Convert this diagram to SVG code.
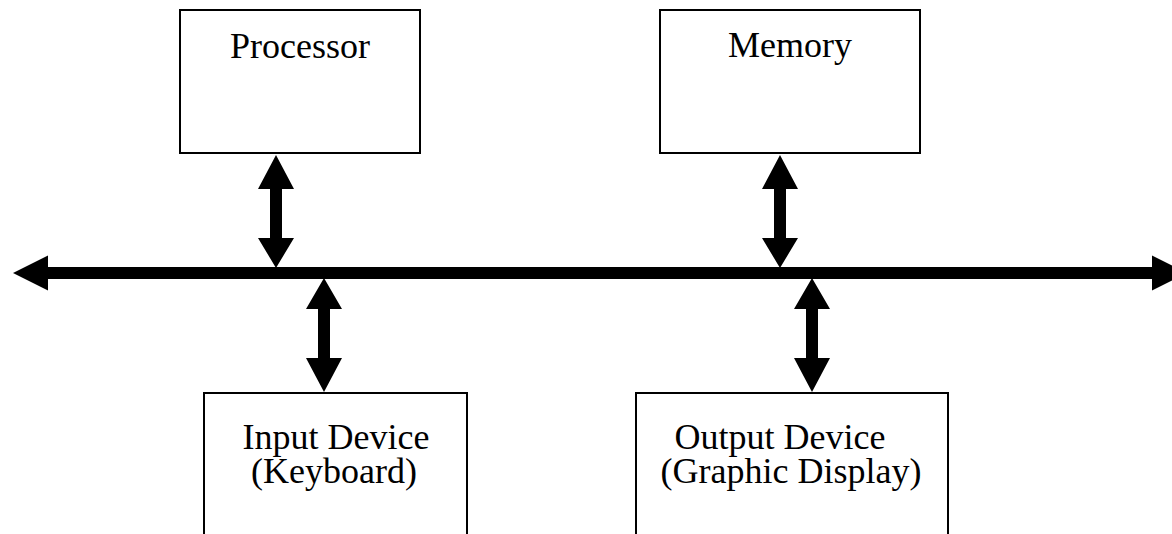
<svg xmlns="http://www.w3.org/2000/svg" width="1172" height="534" viewBox="0 0 1172 534">
  <style>
    .box { fill: #ffffff; stroke: #000000; stroke-width: 2; }
    .label { font-family: "Liberation Serif", "Times New Roman", serif; font-size: 36px; fill: #000000; }
    .arrow { fill: #000000; stroke: none; }
  </style>
  <rect x="0" y="0" width="1172" height="534" fill="#ffffff"/>

  <g id="processor">
    <rect class="box" x="180" y="10" width="240" height="143"/>
    <text class="label" x="300" y="58" text-anchor="middle">Processor</text>
  </g>

  <g id="memory">
    <rect class="box" x="660" y="10" width="260" height="143"/>
    <text class="label" x="790" y="57" text-anchor="middle">Memory</text>
  </g>

  <!-- the device boxes run on past the bottom edge -->
  <g id="input-device">
    <path class="box" d="M204,540 V393 H467 V540"/>
    <text class="label" x="336" y="449" text-anchor="middle">Input Device</text>
    <text class="label" x="334" y="483" text-anchor="middle">(Keyboard)</text>
  </g>

  <g id="output-device">
    <path class="box" d="M636,540 V393 H948 V540"/>
    <text class="label" x="780" y="449" text-anchor="middle">Output Device</text>
    <text class="label" x="791" y="483" text-anchor="middle">(Graphic Display)</text>
  </g>

  <g id="connectors">
    <!-- system bus with arrowheads at both ends -->
    <rect class="arrow" x="47" y="267" width="1106" height="12"/>
    <polygon class="arrow" points="13,273 48,255.5 48,290.5"/>
    <polygon class="arrow" points="1152,255.5 1187,273 1152,290.5"/>
    <!-- processor <-> bus -->
    <polygon class="arrow" points="276,155 294,189 282,189 282,238 294,238 276,268 258,238 270,238 270,189 258,189"/>
    <!-- memory <-> bus -->
    <polygon class="arrow" points="780,155 798,189 786,189 786,238 798,238 780,268 762,238 774,238 774,189 762,189"/>
    <!-- bus <-> input device -->
    <polygon class="arrow" points="324,278 342,309 330,309 330,358 342,358 324,392 306,358 318,358 318,309 306,309"/>
    <!-- bus <-> output device -->
    <polygon class="arrow" points="812,278 830,309 818,309 818,358 830,358 812,392 794,358 806,358 806,309 794,309"/>
  </g>
</svg>
